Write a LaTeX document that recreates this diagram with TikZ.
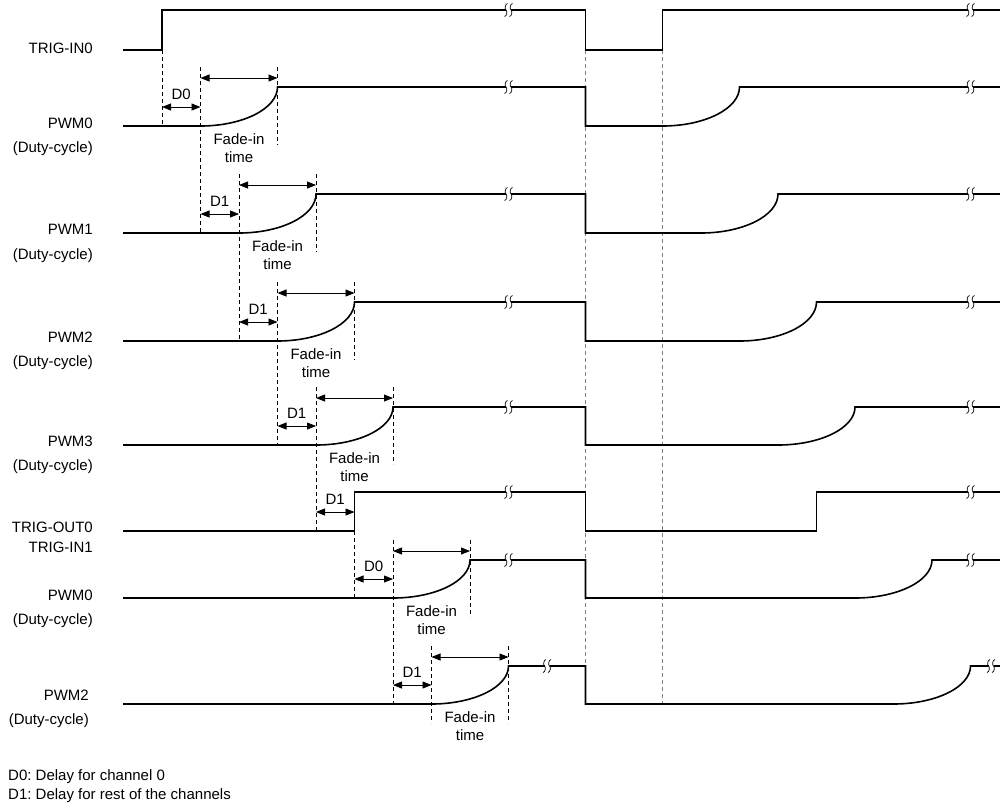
\documentclass[tikz,border=0pt]{standalone}
\usepackage{fontspec}
\setmainfont{Liberation Sans}
\frenchspacing
\usetikzlibrary{arrows.meta}
\tikzset{
  signal/.style={line width=1.6pt, line join=miter},
  guide/.style={line width=0.8pt, dash pattern=on 4pt off 3pt},
  longguide/.style={line width=1pt, black!50, dash pattern=on 4pt off 3pt},
  span/.style={line width=0.8pt, >={Triangle[length=9pt,width=7pt]}, <->},
  siglabel/.style={anchor=mid east, inner sep=0pt},
  brk/.pic={
    \fill[white] (-2.5,-7) rectangle (2.5,7);
    \draw[line width=0.7pt] (-1,-6.5) .. controls (-3.5,-6) and (-4,-1) .. (-2.5,0) .. controls (-1,1) and (-1.5,6) .. (-4,6.5);
    \draw[line width=0.7pt] (4,-6.5) .. controls (1.5,-6) and (1,-1) .. (2.5,0) .. controls (4,1) and (3.5,6) .. (1,6.5);
  }
}
\begin{document}
\begin{tikzpicture}[x=1pt,y=-1pt,font=\fontsize{15}{18}\selectfont]
    \useasboundingbox (0,0) rectangle (1000,807);
    % second trigger edges
    \draw[longguide] (585.5,50) -- (585.5,704);
    \draw[longguide] (662.5,50) -- (662.5,704);
    % labels
    \node[siglabel] (trigin0) at (93,51) {TRIG-IN0};
    \node[siglabel] (pwm0) at (93,126) {PWM0};
    \node[siglabel] (duty0) at (93,150) {(Duty-cycle)};
    \node[siglabel] (pwm1) at (93,232) {PWM1};
    \node[siglabel] (duty1) at (93,257) {(Duty-cycle)};
    \node[siglabel] (pwm2) at (93,340) {PWM2};
    \node[siglabel] (duty2) at (93,364) {(Duty-cycle)};
    \node[siglabel] (pwm3) at (93,444) {PWM3};
    \node[siglabel] (duty3) at (93,468) {(Duty-cycle)};
    \node[siglabel] (trigout0) at (93,530) {TRIG-OUT0};
    \node[siglabel] (trigin1) at (93,550) {TRIG-IN1};
    \node[siglabel] (pwm0b) at (93,598) {PWM0};
    \node[siglabel] (duty0b) at (93,622) {(Duty-cycle)};
    \node[siglabel] (pwm2b) at (89,698) {PWM2};
    \node[siglabel] (duty2b) at (89,722) {(Duty-cycle)};
    % trigger lines
    \draw[guide] (162,50) -- (162,126);
    \draw[signal] (123,50) -- (162,50) -- (162,10) -- (585.5,10) -- (585.5,50) -- (662.5,50) -- (662.5,10) -- (1000,10);
    \pic at (508.5,10) {brk};
    \pic at (970.5,10) {brk};
    \draw[guide] (354.5,531) -- (354.5,598);
    \draw[signal] (123,531) -- (354.5,531) -- (354.5,492) -- (585.5,492) -- (585.5,531) -- (816.5,531) -- (816.5,492) -- (1000,492);
    \pic at (508.5,492) {brk};
    \pic at (970.5,492) {brk};
    \coordinate (dlT) at (316,512);
    \coordinate (drT) at (354.5,512);
    \draw[span] (dlT) -- (drT);
    \node (dlabT) at (335.25,499) {D1};
    % fading channels
    \foreach \lo/\hi/\a/\nx/\dl/\bl/\br [count=\r] in {
        126/87/1/233/D0/508.5/970.5,
        233/194/2/341/D1/508.5/970.5,
        341/302/3/445/D1/508.5/970.5,
        445/407/4/531/D1/508.5/970.5,
        598/560/6/704/D0/508.5/970.5,
        704/666/7/723/D1/547/991}{
        \pgfmathsetmacro\xa{162+38.5*\a}
        \pgfmathsetmacro\xb{\xa+77}
        \pgfmathsetmacro\xm{\xa+38.5}
        \pgfmathsetmacro\xd{\xa-38.5}
        \pgfmathsetmacro\ca{\xa+0.552*77}
        \pgfmathsetmacro\cb{\lo-0.448*(\lo-\hi)}
        \pgfmathsetmacro\ra{\xa+462}
        \pgfmathsetmacro\rb{\xb+462}
        \pgfmathsetmacro\rc{\ca+462}
        \draw[guide] (\xa,\hi-20) -- (\xa,\nx);
        \draw[guide] (\xb,\hi-20) -- (\xb,\lo+19);
        \draw[signal] (123,\lo) -- (\xa,\lo) .. controls (\ca,\lo) and (\xb,\cb) .. (\xb,\hi)
            -- (585.5,\hi) -- (585.5,\lo) -- (\ra,\lo) .. controls (\rc,\lo) and (\rb,\cb) .. (\rb,\hi) -- (1000,\hi);
        \pic at (\bl,\hi) {brk};
        \pic at (\br,\hi) {brk};
        \coordinate (dl\r) at (\xd,\lo-19);
        \coordinate (dr\r) at (\xa,\lo-19);
        \draw[span] (dl\r) -- (dr\r);
        \node (dlab\r) at ({(\xd+\xa)/2},\lo-32) {\dl};
        \coordinate (fs\r) at (\xa,\hi-9);
        \coordinate (fe\r) at (\xb,\hi-9);
        \draw[span] (fs\r) -- (fe\r);
        \node (fl\r) at (\xm,\lo+13) {Fade-in};
        \node (ft\r) at (\xm,\lo+31) {time};
    }
    % legend
    \node[anchor=mid west, inner sep=0pt] (leg0) at (8,778) {D0: Delay for channel 0};
    \node[anchor=mid west, inner sep=0pt] (leg1) at (8,797) {D1: Delay for rest of the channels};
\end{tikzpicture}
\end{document}
